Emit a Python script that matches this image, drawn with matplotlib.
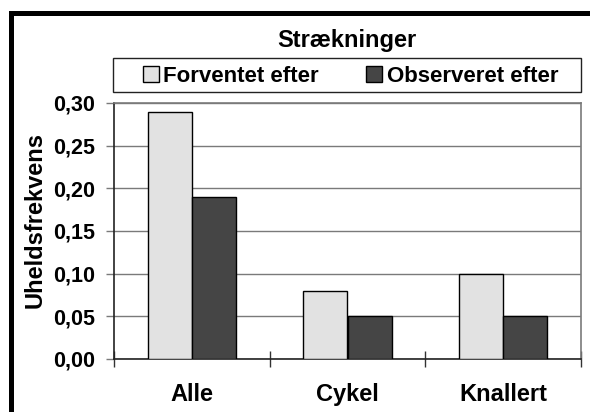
import matplotlib
matplotlib.use("Agg")
import matplotlib.pyplot as plt
from matplotlib.patches import Rectangle
import numpy as np

plt.rcParams['font.family'] = ['Liberation Sans', 'DejaVu Sans']
plt.rcParams['font.weight'] = 'bold'

categories = ["Alle", "Cykel", "Knallert"]
series_names = ["Forventet efter", "Observeret efter"]
forventet = [0.29, 0.08, 0.10]
observeret = [0.19, 0.05, 0.05]
yticks = [0.00, 0.05, 0.10, 0.15, 0.20, 0.25, 0.30]
ytick_labels = ["0,00", "0,05", "0,10", "0,15", "0,20", "0,25", "0,30"]
title = "Strækninger"
ylabel = "Uheldsfrekvens"

W, H = 590, 412
fig = plt.figure(figsize=(W / 100, H / 100), dpi=100)
ax = fig.add_axes([114 / W, 1 - 359 / H, (581 - 114) / W, (359 - 103) / H])

x = np.arange(len(categories))
bw = 0.283
b1 = ax.bar(x - bw / 2, forventet, bw, color="#E2E2E2", edgecolor="black", linewidth=1, zorder=3, label=series_names[0])
b2 = ax.bar(x + bw / 2, observeret, bw, color="#454545", edgecolor="black", linewidth=1, zorder=3, label=series_names[1])

ax.set_xlim(-0.5, len(categories) - 0.5)
ax.set_ylim(0, 0.30)
ax.set_yticks(yticks)
ax.set_yticklabels(ytick_labels, fontsize=15.5, fontweight='bold')
ax.yaxis.grid(True, color="#7a7a7a", linewidth=1, zorder=0)
ax.set_axisbelow(True)

ax.set_xticks(x)
ax.set_xticklabels(categories, fontsize=17, fontweight='bold')
ax.set_xticks(np.arange(len(categories) + 1) - 0.5, minor=True)
ax.tick_params(axis='x', which='major', length=0, pad=17)
ax.tick_params(axis='x', which='minor', direction='inout', length=11, width=1, color='#333333')
ax.tick_params(axis='y', direction='out', length=6, width=1, color='#7a7a7a', pad=7.5)

for s in ['left', 'bottom']:
    ax.spines[s].set_color('#222222')
    ax.spines[s].set_linewidth(1.2)
for s in ['top', 'right']:
    ax.spines[s].set_color('#7a7a7a')
    ax.spines[s].set_linewidth(1.2)

fig.text(35 / W, 1 - 220 / H, ylabel, rotation=90, ha='center', va='center', fontsize=17, fontweight='bold')
fig.text(347 / W, 1 - 41 / H, title, ha='center', va='center', fontsize=17, fontweight='bold')

# legend box
fig.patches.append(Rectangle((113 / W, 1 - 92 / H), (581 - 113) / W, (92 - 58) / H,
                             transform=fig.transFigure, fill=False, edgecolor='#222222', linewidth=1))
leg = fig.legend(handles=[b1, b2], labels=series_names, ncol=2, loc='center',
                 bbox_to_anchor=(350.5 / W, 1 - 76 / H), frameon=False,
                 prop={'size': 16, 'weight': 'bold'}, handlelength=0.72, handleheight=0.72,
                 handletextpad=0.2, columnspacing=2.15, borderpad=0)

# outer frame
fig.patches.append(Rectangle((10.5 / W, -0.1), 1.2, 1 - 13 / H + 0.1, transform=fig.transFigure,
                             fill=False, edgecolor='black', linewidth=3.6, clip_on=False))

fig.savefig("out.png", dpi=100)
